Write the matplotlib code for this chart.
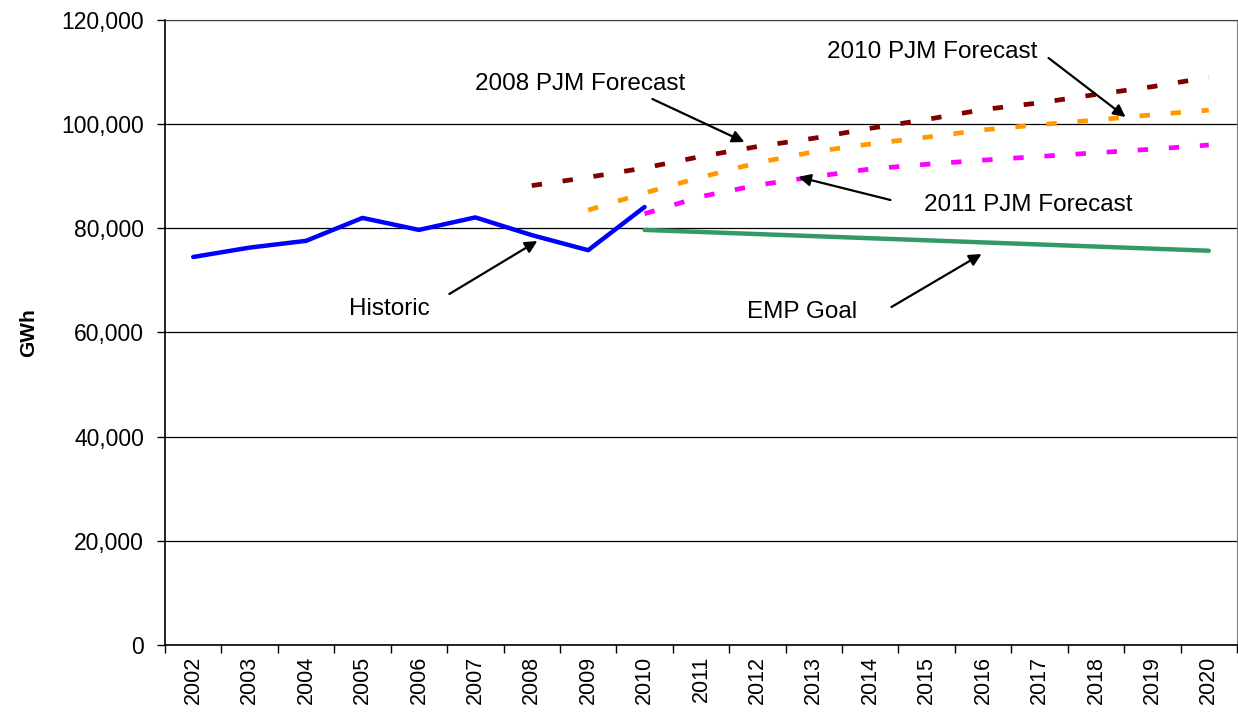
import matplotlib
matplotlib.use("Agg")
import matplotlib.pyplot as plt
from matplotlib.ticker import FuncFormatter, FixedLocator

years = list(range(2002, 2021))

# GWh
historic_years = list(range(2002, 2011))
historic = [74500, 76300, 77600, 82000, 79700, 82100, 78700, 75800, 84100]

pjm2008_years = list(range(2008, 2021))
pjm2008 = [88200, 89800, 91600, 93800, 95700, 97300, 99200, 100900,
           102800, 104100, 105700, 107200, 109000]

pjm2010_years = list(range(2009, 2021))
pjm2010 = [83500, 86800, 89800, 92600, 94700, 96200, 97500, 98900,
           99900, 100800, 101800, 102700]

pjm2011_years = list(range(2010, 2021))
pjm2011 = [82800, 86100, 88300, 89900, 91400, 92300, 93100, 93800,
           94500, 95200, 96000]

emp_years = list(range(2010, 2021))
emp_goal = [79700, 79300, 78900, 78500, 78100, 77700, 77300, 76900,
            76500, 76100, 75700]

FONT = "Liberation Sans"
plt.rcParams["font.family"] = [FONT, "DejaVu Sans"]


def xpos(yrs):
    return [y - years[0] for y in yrs]


fig = plt.figure(figsize=(12.38, 7.19), dpi=100)
ax = fig.add_axes([165 / 1238, 1 - 645 / 719, 1072 / 1238, 625 / 719])

dots = (0, (2.2, 4.4))
ax.plot(xpos(historic_years), historic, color="#0000FF", lw=3.2,
        solid_capstyle="round", zorder=4)
ax.plot(xpos(emp_years), emp_goal, color="#339966", lw=3.2,
        solid_capstyle="round", zorder=4)
ax.plot(xpos(pjm2008_years), pjm2008, color="#800000", lw=3.4,
        linestyle=dots, dash_capstyle="butt", zorder=3)
ax.plot(xpos(pjm2010_years), pjm2010, color="#FF9900", lw=3.4,
        linestyle=dots, dash_capstyle="butt", zorder=3)
ax.plot(xpos(pjm2011_years), pjm2011, color="#FF00FF", lw=3.4,
        linestyle=dots, dash_capstyle="butt", zorder=3)

ax.set_xlim(-0.5, len(years) - 0.5)
ax.set_ylim(0, 120000)

# category axis: labels at centres, tick marks on the boundaries
ax.xaxis.set_major_locator(FixedLocator(range(len(years))))
ax.set_xticklabels([str(y) for y in years], rotation=90, fontsize=15.5)
ax.xaxis.set_minor_locator(FixedLocator([i - 0.5 for i in range(len(years) + 1)]))
ax.tick_params(axis="x", which="major", length=0, pad=8)
ax.tick_params(axis="x", which="minor", length=6, width=1, direction="out")

ax.yaxis.set_major_locator(FixedLocator(range(0, 120001, 20000)))
ax.yaxis.set_major_formatter(FuncFormatter(lambda v, _: f"{int(v):,}"))
ax.tick_params(axis="y", length=6, width=1, direction="out", pad=9,
               labelsize=16.5)
ax.grid(axis="y", color="black", lw=0.9)
ax.set_axisbelow(True)

ax.set_ylabel("GWh", fontsize=15, fontweight="bold")
ax.yaxis.set_label_coords(-0.118, 0.5)

ax.spines["right"].set_color("#808080")
ax.spines["top"].set_color("#404040")
for side in ("left", "bottom"):
    ax.spines[side].set_color("black")
    ax.spines[side].set_linewidth(1.2)


def px(x, y):
    # pixel position in the reference -> data coordinates
    return ((x - 193) / 56.4, (645 - y) * 192)


labels = [
    ("Historic", (389, 309), (449, 294), (537, 241)),
    ("2008 PJM Forecast", (580, 84), (652, 99), (744, 142)),
    ("2010 PJM Forecast", (932, 52), (1048, 58), (1125, 117)),
    ("2011 PJM Forecast", (1028, 205), (890, 200), (798, 177)),
    ("EMP Goal", (802, 312), (891, 307), (981, 254)),
]
for text, tpos, tail, tip in labels:
    ax.text(*px(*tpos), text, fontsize=17.5, ha="center", va="center",
            zorder=6)
    ax.annotate("", xy=px(*tip), xytext=px(*tail),
                arrowprops=dict(arrowstyle="-|>", color="black", lw=1.6,
                                mutation_scale=18, shrinkA=0, shrinkB=0),
                zorder=6)

fig.savefig("out.png", dpi=100)
